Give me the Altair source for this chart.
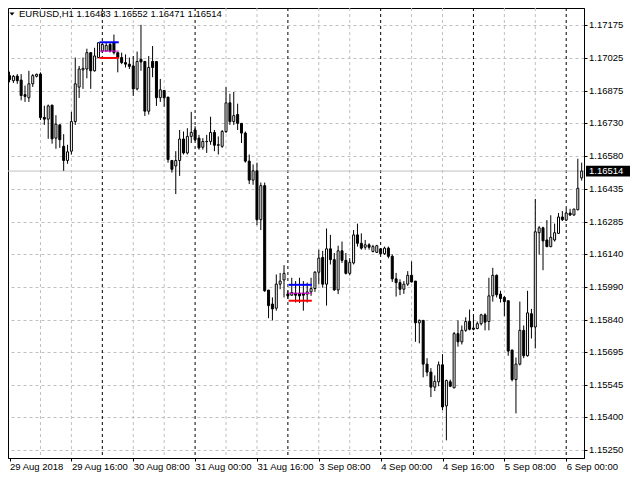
import altair as alt
import pandas as pd

symbol = "EURUSD,H1"

opens = [
    1.16946, 1.16923, 1.16944, 1.16926, 1.16860, 1.16846, 1.16909, 1.16943, 1.16953, 1.16757,
    1.16749, 1.16812, 1.16663, 1.16723, 1.16626, 1.16562, 1.16604, 1.16738, 1.16894, 1.16972,
    1.16976, 1.17050, 1.16968, 1.17028, 1.17057, 1.17057, 1.17087, 1.17095, 1.17050, 1.17028,
    1.17005, 1.16998, 1.16990, 1.16886, 1.17020, 1.17010, 1.16785, 1.17010, 1.17010, 1.16846,
    1.16879, 1.16849, 1.16562, 1.16537, 1.16562, 1.16659, 1.16596, 1.16671, 1.16700, 1.16663,
    1.16622, 1.16648, 1.16648, 1.16689, 1.16633, 1.16626, 1.16693, 1.16823, 1.16738, 1.16770,
    1.16730, 1.16686, 1.16559, 1.16473, 1.16515, 1.16294, 1.16448, 1.15975, 1.15912, 1.15893,
    1.16002, 1.16021, 1.15958, 1.15952, 1.15961, 1.15961, 1.15961, 1.15957, 1.15967, 1.15982,
    1.16056, 1.16123, 1.16002, 1.16162, 1.16113, 1.15976, 1.16153, 1.16110, 1.16051, 1.16098,
    1.16225, 1.16187, 1.16169, 1.16180, 1.16150, 1.16146, 1.16162, 1.16140, 1.16165, 1.16128,
    1.16026, 1.16009, 1.15979, 1.16002, 1.16042, 1.16016, 1.15827, 1.15838, 1.15640, 1.15604,
    1.15536, 1.15560, 1.15637, 1.15451, 1.15560, 1.15533, 1.15778, 1.15741, 1.15793, 1.15833,
    1.15803, 1.15801, 1.15823, 1.15863, 1.15833, 1.15949, 1.16042, 1.15957, 1.15942, 1.15927,
    1.15704, 1.15570, 1.15640, 1.15793, 1.15678, 1.15868, 1.15808, 1.16235, 1.16257, 1.16202,
    1.16172, 1.16202, 1.16232, 1.16306, 1.16292, 1.16324, 1.16315, 1.16339, 1.16483,
]
highs = [
    1.16964, 1.16949, 1.16953, 1.16953, 1.16901, 1.16968, 1.16953, 1.16955, 1.16961, 1.16810,
    1.16815, 1.16815, 1.16767, 1.16726, 1.16681, 1.16633, 1.16782, 1.17028, 1.16990, 1.17028,
    1.17068, 1.17053, 1.17072, 1.17097, 1.17097, 1.17096, 1.17096, 1.17132, 1.17050, 1.17050,
    1.17042, 1.17028, 1.17035, 1.17055, 1.17176, 1.17013, 1.17035, 1.17080, 1.17010, 1.16931,
    1.16879, 1.16849, 1.16562, 1.16604, 1.16700, 1.16693, 1.16708, 1.16782, 1.16717, 1.16678,
    1.16663, 1.16678, 1.16760, 1.16700, 1.16671, 1.16700, 1.16894, 1.16864, 1.16872, 1.16819,
    1.16730, 1.16693, 1.16589, 1.16544, 1.16552, 1.16462, 1.16462, 1.15975, 1.15942, 1.16046,
    1.16053, 1.16088, 1.15972, 1.16031, 1.16016, 1.16031, 1.16016, 1.16009, 1.16031, 1.16061,
    1.16158, 1.16153, 1.16254, 1.16225, 1.16143, 1.16176, 1.16195, 1.16143, 1.16120, 1.16247,
    1.16276, 1.16232, 1.16202, 1.16187, 1.16180, 1.16180, 1.16165, 1.16172, 1.16172, 1.16137,
    1.16053, 1.16024, 1.16016, 1.16061, 1.16105, 1.16016, 1.15842, 1.15838, 1.15667, 1.15622,
    1.15589, 1.15652, 1.15685, 1.15570, 1.15570, 1.15786, 1.15838, 1.15815, 1.15852, 1.15887,
    1.15860, 1.15833, 1.15868, 1.15870, 1.16031, 1.16076, 1.16046, 1.15972, 1.15949, 1.15927,
    1.15704, 1.15670, 1.15923, 1.15815, 1.15972, 1.15890, 1.16388, 1.16265, 1.16262, 1.16292,
    1.16314, 1.16276, 1.16324, 1.16333, 1.16343, 1.16343, 1.16343, 1.16570, 1.16552,
]
lows = [
    1.16916, 1.16913, 1.16909, 1.16834, 1.16827, 1.16827, 1.16895, 1.16938, 1.16745, 1.16723,
    1.16660, 1.16638, 1.16615, 1.16619, 1.16515, 1.16547, 1.16589, 1.16723, 1.16845, 1.16886,
    1.16934, 1.16886, 1.16964, 1.17025, 1.17050, 1.17056, 1.17051, 1.17042, 1.16961, 1.16998,
    1.16983, 1.16976, 1.16854, 1.16879, 1.16968, 1.16763, 1.16770, 1.16939, 1.16809, 1.16827,
    1.16805, 1.16552, 1.16507, 1.16410, 1.16492, 1.16589, 1.16589, 1.16641, 1.16650, 1.16611,
    1.16611, 1.16596, 1.16633, 1.16604, 1.16589, 1.16619, 1.16686, 1.16723, 1.16723, 1.16700,
    1.16641, 1.16552, 1.16455, 1.16452, 1.16269, 1.16247, 1.15967, 1.15848, 1.15838, 1.15882,
    1.15979, 1.15942, 1.15936, 1.15949, 1.15919, 1.15917, 1.15882, 1.15919, 1.15949, 1.15967,
    1.16002, 1.15986, 1.15905, 1.16091, 1.15972, 1.15957, 1.16098, 1.16046, 1.16042, 1.16091,
    1.16172, 1.16158, 1.16158, 1.16158, 1.16146, 1.16143, 1.16135, 1.16135, 1.16119, 1.16012,
    1.15946, 1.15952, 1.15958, 1.15994, 1.16009, 1.15741, 1.15734, 1.15580, 1.15585, 1.15491,
    1.15518, 1.15540, 1.15432, 1.15295, 1.15536, 1.15530, 1.15719, 1.15729, 1.15786, 1.15793,
    1.15793, 1.15798, 1.15815, 1.15793, 1.15793, 1.15923, 1.15942, 1.15919, 1.15857, 1.15678,
    1.15562, 1.15417, 1.15634, 1.15667, 1.15674, 1.15756, 1.15711, 1.16135, 1.16065, 1.16169,
    1.16169, 1.16195, 1.16229, 1.16288, 1.16288, 1.16311, 1.16312, 1.16336, 1.16471,
]
closes = [
    1.16928, 1.16943, 1.16923, 1.16856, 1.16852, 1.16909, 1.16946, 1.16952, 1.16756, 1.16749,
    1.16809, 1.16660, 1.16726, 1.16656, 1.16562, 1.16601, 1.16738, 1.16909, 1.16976, 1.16979,
    1.17050, 1.16968, 1.17035, 1.17095, 1.17087, 1.17083, 1.17057, 1.17050, 1.17028, 1.17005,
    1.16998, 1.16988, 1.16886, 1.17010, 1.17008, 1.16785, 1.16983, 1.16983, 1.16846, 1.16882,
    1.16846, 1.16566, 1.16522, 1.16562, 1.16659, 1.16596, 1.16671, 1.16689, 1.16656, 1.16619,
    1.16648, 1.16647, 1.16689, 1.16631, 1.16631, 1.16693, 1.16823, 1.16738, 1.16765, 1.16730,
    1.16686, 1.16559, 1.16473, 1.16515, 1.16294, 1.16448, 1.15972, 1.15905, 1.15890, 1.16002,
    1.16016, 1.16051, 1.15949, 1.15964, 1.15952, 1.15949, 1.15952, 1.15967, 1.15982, 1.16056,
    1.16120, 1.16002, 1.16162, 1.16113, 1.15976, 1.16153, 1.16110, 1.16051, 1.16101, 1.16225,
    1.16187, 1.16165, 1.16180, 1.16169, 1.16172, 1.16176, 1.16140, 1.16165, 1.16128, 1.16026,
    1.16009, 1.15979, 1.16002, 1.16042, 1.16012, 1.15827, 1.15838, 1.15640, 1.15604, 1.15536,
    1.15562, 1.15637, 1.15446, 1.15566, 1.15540, 1.15778, 1.15741, 1.15793, 1.15833, 1.15798,
    1.15798, 1.15823, 1.15863, 1.15830, 1.15949, 1.16042, 1.15954, 1.15937, 1.15923, 1.15699,
    1.15570, 1.15640, 1.15793, 1.15678, 1.15872, 1.15808, 1.16239, 1.16257, 1.16198, 1.16172,
    1.16214, 1.16235, 1.16306, 1.16294, 1.16324, 1.16315, 1.16342, 1.16436, 1.16514,
]

time_tick_index = [0, 16, 32, 48, 64, 80, 96, 112, 128, 144]
time_tick_labels = ["29 Aug 2018", "29 Aug 16:00", "30 Aug 08:00", "31 Aug 00:00",
                    "31 Aug 16:00", "3 Sep 08:00", "4 Sep 00:00", "4 Sep 16:00",
                    "5 Sep 08:00", "6 Sep 00:00"]
grid_index = [8, 16, 32, 40, 56, 64, 80, 88, 104, 112, 128, 136]
separator_index = [24, 48, 72, 96, 120, 144]
price_ticks = [1.17175, 1.17025, 1.16875, 1.16730, 1.16580, 1.16435, 1.16285,
               1.16140, 1.15990, 1.15840, 1.15695, 1.15545, 1.15400, 1.15250]
price_label_text = ["%.5f" % v for v in price_ticks]

box_start = [23.25, 72.2]
box_end = [28.25, 78.2]
box_high = [1.17097, 1.15999]
box_mid = [1.17057, 1.15961]
box_low = [1.17026, 1.15927]

W, H = 576, 450
FONT = "Liberation Sans"
FS = 9.5

df = pd.DataFrame({"i": list(range(len(opens))), "o": opens, "h": highs,
                   "l": lows, "c": closes})
df["dir"] = ["up" if c > o else "down" for o, c in zip(opens, closes)]

xscale = alt.Scale(domain=[-0.4, 148.6], nice=False, zero=False, padding=0)
yscale = alt.Scale(domain=[1.15215, 1.172522], nice=False, zero=False, padding=0)

label_expr = ("[" + ",".join("'%s'" % t for t in time_tick_labels) + "][indexof(["
              + ",".join(str(v) for v in time_tick_index) + "], datum.value)]")

xaxis = alt.Axis(values=time_tick_index, labelExpr=label_expr, grid=False, title=None,
                 labelAlign="left", labelBaseline="top", labelPadding=0,
                 tickSize=3, tickColor="black", domainColor="black",
                 labelFont=FONT, labelFontSize=FS, labelColor="black",
                 labelOverlap=False, labelFlush=False, labelBound=False)
yaxis = alt.Axis(orient="right", values=price_ticks, labels=False, grid=True,
                 gridColor="#c0c0c0", gridDash=[3, 3], gridWidth=1, title=None,
                 tickSize=3, tickColor="black", domainColor="black")


def X(field):
    return alt.X(field, scale=xscale, axis=xaxis)


def Y(field):
    return alt.Y(field, scale=yscale, axis=yaxis)


vgrid = alt.Chart(pd.DataFrame({"g": grid_index})).mark_rule(
    color="#c0c0c0", strokeDash=[3, 3], strokeWidth=1
).encode(x=X("g:Q"))

seps = alt.Chart(pd.DataFrame({"g": separator_index})).mark_rule(
    color="black", strokeDash=[3, 3], strokeWidth=1
).encode(x=X("g:Q"))

cur = pd.DataFrame({"p": [closes[-1]]})
pline = alt.Chart(cur).mark_rule(color="#c0c0c0", strokeWidth=1).encode(y=Y("p:Q"))

wicks = alt.Chart(df).mark_rule(color="black", strokeWidth=1).encode(
    x=X("i:Q"), y=Y("l:Q"), y2="h:Q")

bodies = alt.Chart(df).mark_bar(size=2, stroke="black", strokeWidth=1).encode(
    x=X("i:Q"), y=Y("o:Q"), y2="c:Q",
    fill=alt.Fill("dir:N", scale=alt.Scale(domain=["up", "down"], range=["white", "black"]),
                  legend=None),
)

boxdf = pd.DataFrame({"s": box_start, "e": box_end, "hi": box_high, "mid": box_mid,
                      "lo": box_low})
box_hi = alt.Chart(boxdf).mark_rule(color="#0000ff", strokeWidth=2).encode(
    x=X("s:Q"), x2="e:Q", y=Y("hi:Q"))
box_md = alt.Chart(boxdf).mark_rule(color="#e000e0", strokeWidth=1).encode(
    x=X("s:Q"), x2="e:Q", y=Y("mid:Q"))
box_lo = alt.Chart(boxdf).mark_rule(color="#ff0000", strokeWidth=2).encode(
    x=X("s:Q"), x2="e:Q", y=Y("lo:Q"))

# price scale labels on the right (text as strings)
ylabels = alt.Chart(pd.DataFrame({"v": price_ticks, "t": price_label_text})).mark_text(
    align="left", baseline="middle", font=FONT, fontSize=FS, color="black"
).encode(x=alt.value(W + 5), y=Y("v:Q"), text="t:N")

header = "%s  %.5f %.5f %.5f %.5f" % (symbol, opens[-1], highs[-1], lows[-1], closes[-1])
head_txt = alt.Chart(pd.DataFrame({"t": [header]})).mark_text(
    align="left", baseline="middle", font=FONT, fontSize=FS, color="black"
).encode(x=alt.value(11), y=alt.value(6), text="t:N")
head_tri = alt.Chart(pd.DataFrame({"t": [header]})).mark_point(
    shape="M-1,-0.6L1,-0.6L0,0.6Z", filled=True, color="black", size=25, opacity=1
).encode(x=alt.value(4), y=alt.value(6))

plabel_rect = alt.Chart(cur).transform_calculate(
    top="datum.p + 0.00024", bot="datum.p - 0.00025"
).mark_rect(color="black").encode(
    x=alt.value(W + 2), x2=alt.value(W + 46),
    y=Y("top:Q"), y2="bot:Q")
plabel_txt = alt.Chart(cur).mark_text(
    align="left", baseline="middle", font=FONT, fontSize=FS, color="white"
).encode(x=alt.value(W + 5), y=Y("p:Q"), text=alt.Text("p:Q", format=".5f"))

chart = alt.layer(
    vgrid, seps, pline, wicks, bodies, box_hi, box_md, box_lo, ylabels,
    head_tri, head_txt, plabel_rect, plabel_txt
).properties(
    width=W, height=H,
    padding={"left": 0, "top": 0, "right": 46, "bottom": 14},
    autosize=alt.AutoSizeParams(type="none"),
).configure_view(stroke="black", strokeWidth=1)

chart.save("out.html", embed_options={"renderer": "svg", "actions": False})
